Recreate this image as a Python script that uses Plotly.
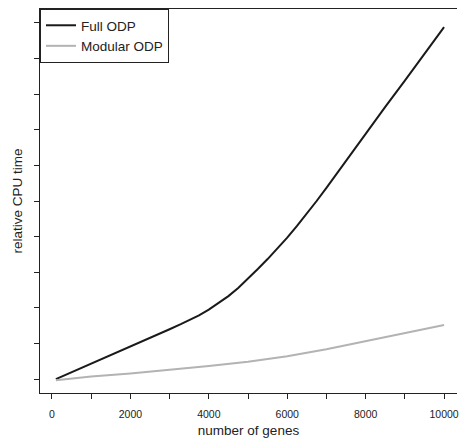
import plotly.graph_objects as go

genes_full = [100, 500, 1000, 1500, 2000, 2500, 3000, 3300, 3500, 3750, 4000, 4250,
              4500, 4750, 5000, 5250, 5500, 5750, 6000, 6250, 6500, 6750, 7000,
              7500, 8000, 8500, 9000, 9500, 10000]
cpu_full = [0.0, 0.19, 0.44, 0.68, 0.92, 1.16, 1.4, 1.55, 1.65, 1.79, 1.95, 2.13,
            2.33, 2.56, 2.82, 3.09, 3.37, 3.66, 3.97, 4.3, 4.64, 5.0, 5.37,
            6.13, 6.9, 7.64, 8.38, 9.13, 9.88]

genes_mod = [100, 1000, 2000, 3000, 4000, 5000, 6000, 7000, 8000, 9000, 10000]
cpu_mod = [-0.03, 0.07, 0.16, 0.26, 0.37, 0.49, 0.64, 0.84, 1.07, 1.3, 1.52]

x_ticks = [0, 2000, 4000, 6000, 8000, 10000]
x_minor = [1000, 3000, 5000, 7000, 9000]
y_ticks = list(range(0, 11))

FONT = "Liberation Sans, Arial, sans-serif"

fig = go.Figure()
fig.add_trace(go.Scatter(x=genes_full, y=cpu_full, mode="lines", name="Full ODP",
                         line=dict(color="#1a1a1a", width=2)))
fig.add_trace(go.Scatter(x=genes_mod, y=cpu_mod, mode="lines", name="Modular ODP",
                         line=dict(color="#b3b3b3", width=2)))

fig.update_layout(
    width=459, height=438,
    margin=dict(l=40, r=0, t=9, b=45),
    paper_bgcolor="white", plot_bgcolor="white",
    font=dict(family=FONT, color="#222222"),
    showlegend=True,
    legend=dict(x=0, y=1, xanchor="left", yanchor="top",
                bordercolor="#222222", borderwidth=1, bgcolor="white",
                font=dict(size=13.5, family=FONT, color="#222222"),
                tracegroupgap=0),
    xaxis=dict(range=[-305, 10330], tickvals=x_ticks + x_minor,
               ticktext=[str(v) for v in x_ticks] + [""] * len(x_minor),
               ticks="outside", ticklen=5, tickcolor="#222222", tickwidth=1,
               ticklabelstandoff=6, ticklabeloverflow="allow",
               showline=True, linecolor="#222222", linewidth=1.3, mirror=True,
               showgrid=False, zeroline=False,
               tickfont=dict(size=10.5, family=FONT, color="#222222"),
               title=dict(text="number of genes", font=dict(size=13.5, family=FONT, color="#222222"),
                          standoff=6)),
    yaxis=dict(range=[-0.39, 10.39], tickvals=y_ticks, showticklabels=False,
               ticks="outside", ticklen=5, tickcolor="#222222", tickwidth=1,
               showline=True, linecolor="#222222", linewidth=1.3,
               showgrid=False, zeroline=False,
               title=dict(text="relative CPU time", font=dict(size=13.5, family=FONT, color="#222222"),
                          standoff=8)),
)

fig.write_html("out.html", config={"displayModeBar": False},
               post_script="document.body.style.margin='0';document.body.style.overflow='hidden';")
